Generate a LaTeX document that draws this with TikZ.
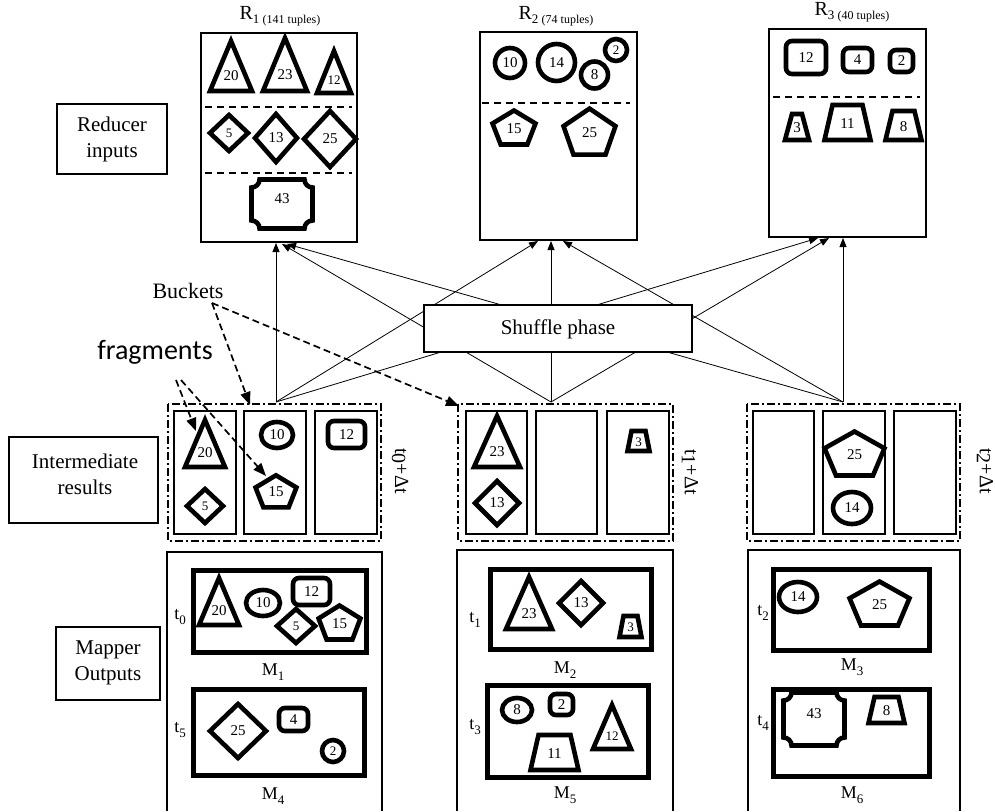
\documentclass[tikz,border=0pt]{standalone}
\usepackage{fontspec}
\setmainfont{Liberation Serif}
\newfontfamily\fragfont{Carlito}
\usetikzlibrary{arrows.meta}
\tikzset{
  shp/.style={line width=4.6pt, line join=miter},
  thinbox/.style={draw, line width=1.5pt},
  mbox/.style={draw, line width=5.5pt},
  num/.style={font=\fontsize{15}{15}\selectfont, inner sep=0pt},
  lbl/.style={font=\fontsize{21}{26}\selectfont, align=center, inner sep=0pt},
  mlbl/.style={font=\fontsize{18}{18}\selectfont, inner sep=0pt},
  sepline/.style={line width=2pt, dash pattern=on 7pt off 5pt},
  ddot/.style={line width=1.6pt, dash pattern=on 8pt off 3pt on 2pt off 3pt},
  shuf/.style={line width=0.8pt, -{Triangle[length=9pt,width=7pt]}},
  ann/.style={line width=1.7pt, dash pattern=on 7pt off 4pt, -{Triangle[length=13pt,width=10pt]}},
}
\newcommand\lsub[1]{\raisebox{-0.25em}{\fontsize{13}{13}\selectfont #1}}
\newcommand\smn[1]{{\fontsize{13}{13}\selectfont #1}}
% triangle: cx, ybase, half width, height, label
\newcommand\shTri[5]{%
  \draw[shp] ({#1-#3},#2) -- ({#1+#3},#2) -- (#1,{#2-#4}) -- cycle;
  \node[num] at (#1,{#2-0.3*#4}) {#5};}
% diamond: cx, cy, hw, hh, label
\newcommand\shDia[5]{%
  \draw[shp] ({#1-#3},#2) -- (#1,{#2-#4}) -- ({#1+#3},#2) -- (#1,{#2+#4}) -- cycle;
  \node[num] at (#1,#2) {#5};}
% ellipse: cx, cy, rx, ry, label
\newcommand\shCir[5]{%
  \draw[shp] (#1,#2) ellipse [x radius=#3, y radius=#4];
  \node[num] at (#1,#2) {#5};}
% rounded square: x1,y1,x2,y2,label
\newcommand\shRsq[5]{%
  \draw[shp, rounded corners=6pt] (#1,#2) rectangle (#3,#4);
  \node[num] at ({(#1+#3)/2},{(#2+#4)/2}) {#5};}
% pentagon: cx, cy, rx, ry, label
\newcommand\shPent[5]{%
  \draw[shp] (#1,{#2-#4}) -- ({#1+0.951*#3},{#2-0.309*#4}) -- ({#1+0.588*#3},{#2+0.809*#4})
     -- ({#1-0.588*#3},{#2+0.809*#4}) -- ({#1-0.951*#3},{#2-0.309*#4}) -- cycle;
  \node[num] at (#1,{#2-1}) {#5};}
% trapezoid: cx, ytop, ybot, halftop, halfbot, label
\newcommand\shTrap[6]{%
  \draw[shp] ({#1-#5},#3) -- ({#1+#5},#3) -- ({#1+#4},#2) -- ({#1-#4},#2) -- cycle;
  \node[num] at (#1,{(#2+#3)/2+1}) {#6};}
% plaque: x1,y1,x2,y2,c,label
\newcommand\shOct[6]{%
  \draw[shp] ({#1+#5},#2) -- ({#3-#5},#2)
    .. controls ({#3-#5},{#2+0.552*#5}) and ({#3-0.552*#5},{#2+#5}) .. (#3,{#2+#5})
    -- (#3,{#4-#5})
    .. controls ({#3-0.552*#5},{#4-#5}) and ({#3-#5},{#4-0.552*#5}) .. ({#3-#5},#4)
    -- ({#1+#5},#4)
    .. controls ({#1+#5},{#4-0.552*#5}) and ({#1+0.552*#5},{#4-#5}) .. (#1,{#4-#5})
    -- (#1,{#2+#5})
    .. controls ({#1+0.552*#5},{#2+#5}) and ({#1+#5},{#2+0.552*#5}) .. cycle;
  \node[num] at ({(#1+#3)/2},{#2+0.4*(#4-#2)}) {#6};}
\begin{document}
\begin{tikzpicture}[x=1pt,y=-1pt]
\useasboundingbox[fill=white] (0,0) rectangle (995,811);

% ---------- left labels ----------
\draw[thinbox] (57,104) rectangle (167,174);
\node[lbl] (redlbl) at (112,139) {Reducer\\inputs};
\draw[thinbox] (9,437) rectangle (158,523);
\node[lbl] (intlbl) at (85,474) {Intermediate\\results};
\draw[thinbox] (56,627) rectangle (160,700);
\node[lbl] (maplbl) at (108,663) {Mapper\\Outputs};

% ---------- reducer boxes ----------
\draw[thinbox] (201,33) rectangle (357,242);
\draw[thinbox] (480,32) rectangle (637,240);
\draw[thinbox] (769,29) rectangle (926,237);
\node[font=\fontsize{20}{20}\selectfont, inner sep=0pt] (t1) at (280,16)
  {R\raisebox{-4pt}{\fontsize{13}{13}\selectfont 1 \fontsize{12}{12}\selectfont(141 tuples)}};
\node[font=\fontsize{20}{20}\selectfont, inner sep=0pt] (t2) at (556,16)
  {R\raisebox{-4pt}{\fontsize{13}{13}\selectfont 2 \fontsize{12}{12}\selectfont(74 tuples)}};
\node[font=\fontsize{20}{20}\selectfont, inner sep=0pt] (t3) at (852,12)
  {R\raisebox{-4pt}{\fontsize{13}{13}\selectfont 3 \fontsize{12}{12}\selectfont(40 tuples)}};

\draw[sepline] (205,107) -- (352,107);
\draw[sepline] (205,173) -- (352,173);
\draw[sepline] (482,103) -- (630,103);
\draw[sepline] (773,97) -- (920,97);

% R1 content
\shTri{231}{91}{21}{50}{20}
\shTri{285}{91}{22}{53}{23}
\shTri{334}{93}{17}{42}{\smn{12}}
\shDia{229}{133}{19}{18}{\smn{5}}
\shDia{276}{138}{21}{24}{13}
\shDia{330}{139}{26}{28}{25}
\shOct{251.5}{179.5}{312.5}{228.5}{8}{43}
% R2 content
\shCir{510}{63}{15}{15}{10}
\shCir{556.5}{62.5}{18.5}{18.5}{14}
\shCir{594.5}{75}{13.5}{13.5}{8}
\shCir{616}{50}{11}{11}{\smn{2}}
\shPent{514}{129.3}{22.6}{18.8}{15}
\shPent{589.5}{134}{27.3}{25.4}{25}
% R3 content
\shRsq{786}{41}{826}{74}{12}
\shRsq{843}{48}{872}{72}{4}
\shRsq{890}{50}{913}{72}{2}
\shTrap{797}{114}{140}{5}{12}{3}
\shTrap{847.5}{105}{140}{15}{23}{11}
\shTrap{903.5}{111}{140}{11}{18}{8}

% ---------- shuffle connectors ----------
\coordinate (g1) at (276,402);
\coordinate (g2) at (551,402);
\coordinate (g3) at (843,402);
\coordinate (r1a) at (276,243); \coordinate (r1b) at (282,244); \coordinate (r1c) at (287,244);
\coordinate (r2a) at (538,241); \coordinate (r2b) at (551,241); \coordinate (r2c) at (563,241);
\coordinate (r3a) at (818,238); \coordinate (r3b) at (829,238); \coordinate (r3c) at (843,238);
\draw[shuf] (g1) -- (r1a);
\draw[shuf] (g1) -- (r2a);
\draw[shuf] (g1) -- (r3a);
\draw[shuf] (g2) -- (r1b);
\draw[shuf] (g2) -- (r2b);
\draw[shuf] (g2) -- (r3b);
\draw[shuf] (g3) -- (r1c);
\draw[shuf] (g3) -- (r2c);
\draw[shuf] (g3) -- (r3c);
\draw[thinbox, fill=white] (424,305) rectangle (692,352);
\node[font=\fontsize{21}{21}\selectfont, inner sep=0pt] (shuffle) at (558,329) {Shuffle phase};

% ---------- intermediate results ----------
\draw[ddot] (168,404) rectangle (381,541);
\draw[thinbox] (174,411) rectangle (236,534);
\draw[thinbox] (244,411) rectangle (306,534);
\draw[thinbox] (315,411) rectangle (377,534);
\draw[ddot] (458,404) rectangle (673,541);
\draw[thinbox] (466,411) rectangle (527,534);
\draw[thinbox] (536,411) rectangle (597,534);
\draw[thinbox] (607,411) rectangle (669,534);
\draw[ddot] (747,404) rectangle (960,541);
\draw[thinbox] (753,411) rectangle (814,534);
\draw[thinbox] (823,411) rectangle (885,534);
\draw[thinbox] (894,411) rectangle (956,534);
\node[font=\fontsize{20}{20}\selectfont, rotate=-90, inner sep=0pt] (d1) at (400,471) {t\raisebox{-3pt}{0}+Δt};
\node[font=\fontsize{20}{20}\selectfont, rotate=-90, inner sep=0pt] (d2) at (690,472) {t\raisebox{-3pt}{1}+Δt};
\node[font=\fontsize{20}{20}\selectfont, rotate=-90, inner sep=0pt] (d3) at (985,471) {t\raisebox{-3pt}{2}+Δt};

\shTri{205}{467}{20}{47}{20}
\shDia{205}{506}{18}{17}{\smn{5}}
\shCir{277}{435}{16}{13}{10}
\shPent{276}{493}{21.5}{17.7}{15}
\shRsq{328}{421}{365}{448}{12}
\shTri{497}{467}{23}{51}{23}
\shDia{497}{503}{22}{22}{13}
\shTrap{638.5}{431}{451}{7}{11}{\smn{3}}
\shPent{854.5}{455.8}{31.5}{24.3}{25}
\shCir{852}{508}{19}{16}{14}

% ---------- mapper outputs ----------
\draw[line width=1.5pt] (167,811) -- (167,552) -- (382,552) -- (382,811);
\draw[line width=1.5pt] (457,811) -- (457,550) -- (673,550) -- (673,811);
\draw[line width=1.5pt] (748,811) -- (748,550) -- (960,550) -- (960,811);

\draw[mbox] (193.5,570.5) rectangle (366.5,652.5);
\draw[mbox] (193.5,689.5) rectangle (364.5,775.5);
\draw[mbox] (490.5,569.5) rectangle (651.5,649.5);
\draw[mbox] (487.5,685.5) rectangle (648.5,777.5);
\draw[mbox] (773.5,569.5) rectangle (929.5,650.5);
\draw[mbox] (773.5,689.5) rectangle (929.5,776.5);

\node[mlbl] (m1) at (273,672) {M\lsub{1}};
\node[mlbl] (m4) at (273,796) {M\lsub{4}};
\node[mlbl] (m2) at (565,670) {M\lsub{2}};
\node[mlbl] (m5) at (565,795) {M\lsub{5}};
\node[mlbl] (m3) at (852,667) {M\lsub{3}};
\node[mlbl] (m6) at (852,795) {M\lsub{6}};
\node[mlbl] (tt0) at (180,617) {t\lsub{0}};
\node[mlbl] (tt5) at (180,730) {t\lsub{5}};
\node[mlbl] (tt1) at (475,620) {t\lsub{1}};
\node[mlbl] (tt3) at (475,727) {t\lsub{3}};
\node[mlbl] (tt2) at (763,613) {t\lsub{2}};
\node[mlbl] (tt4) at (763,723) {t\lsub{4}};

% M1
\shTri{219}{625}{20}{47}{20}
\shCir{263}{603}{17}{13}{10}
\shRsq{293}{578}{330}{605}{12}
\shDia{296}{626}{19}{17}{\smn{5}}
\shPent{339.5}{624.3}{22}{18.8}{15}
% M4
\shDia{238}{731}{28}{27}{25}
\shRsq{279}{708}{308}{731}{4}
\shCir{333}{751}{11}{11}{\smn{2}}
% M2
\shTri{529}{629}{23}{52}{23}
\shDia{581}{603}{22}{22}{13}
\shTrap{630.5}{616}{637}{7}{11}{\smn{3}}
% M5
\shCir{517}{710}{15}{12}{8}
\shRsq{550}{694}{573}{715}{2}
\shTri{612}{749}{19}{44}{\smn{12}}
\shTrap{554.5}{735}{770}{16}{24}{11}
% M3
\shCir{798}{597}{19}{15}{14}
\shPent{879.5}{605.8}{31.5}{24.3}{25}
% M6
\shOct{783.5}{692.5}{844.5}{745.5}{8}{43}
\shTrap{886.5}{697}{723}{12}{18}{8}

% ---------- annotations ----------
\node[font=\fontsize{22}{22}\selectfont, inner sep=0pt] (buckets) at (188,291) {Buckets};
\coordinate (bk) at (212,303);
\coordinate (bkA) at (250,405);
\coordinate (bkB) at (459,406);
\draw[ann] (bk) -- (bkA);
\draw[ann] (bk) -- (bkB);
\node[font=\fontsize{28}{28}\fragfont, inner sep=0pt] (frag) at (155,352) {fragments};
\coordinate (frA) at (176,380);
\coordinate (frB) at (181,380);
\coordinate (frAe) at (196,431);
\coordinate (frBe) at (266,476);
\draw[ann] (frA) -- (frAe);
\draw[ann] (frB) -- (frBe);
\end{tikzpicture}
\end{document}
